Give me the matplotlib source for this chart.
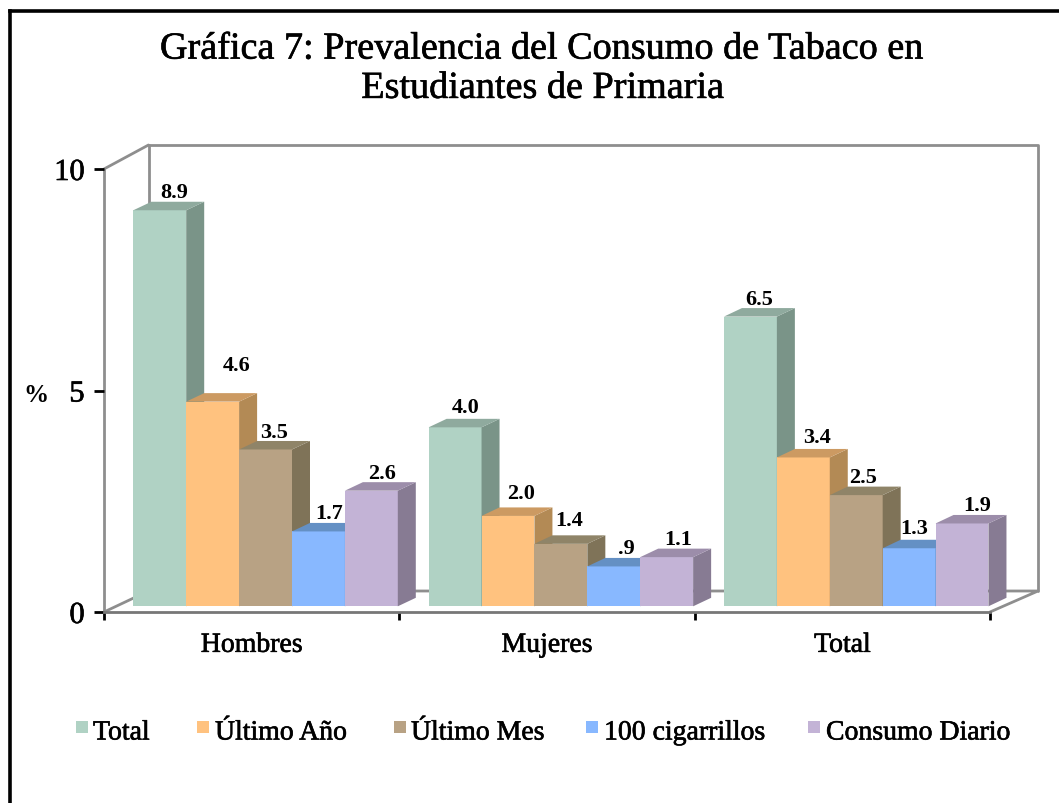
import matplotlib
matplotlib.use("Agg")
import matplotlib.pyplot as plt
import matplotlib.patheffects as pe
from matplotlib.patches import Polygon, Rectangle

# ── data ──────────────────────────────────────────────────────────────────────
TITLE = "Gráfica 7: Prevalencia del Consumo de Tabaco en\nEstudiantes de Primaria"
categories = ["Hombres", "Mujeres", "Total"]
series_names = ["Total", "Último Año", "Último Mes", "100 cigarrillos", "Consumo Diario"]

# bar heights (printed labels are the rounded values)
total = [8.94, 4.04, 6.54]
ultimo_anio = [4.62, 2.04, 3.36]
ultimo_mes = [3.54, 1.41, 2.51]
cien_cigarrillos = [1.69, 0.90, 1.31]
consumo_diario = [2.61, 1.11, 1.87]

value_labels = [
    ["8.9", "4.0", "6.5"],
    ["4.6", "2.0", "3.4"],
    ["3.5", "1.4", "2.5"],
    ["1.7", ".9", "1.3"],
    ["2.6", "1.1", "1.9"],
]
y_ticks = [0, 5, 10]

# ── style ─────────────────────────────────────────────────────────────────────
W, H = 1059, 804
FONT = "Liberation Serif"
FRONT = ["#B0D2C4", "#FFC27F", "#B8A284", "#88B8FF", "#C3B3D6"]
SIDE = ["#7A9488", "#B38A55", "#7F7358", "#5F8CC0", "#877B93"]
TOP = ["#8FAA9E", "#CC9A62", "#8F8468", "#6490C4", "#9C8DAA"]
WALL = "#8E8E8E"
HEAVY = [pe.withStroke(linewidth=0.45, foreground="black")]

# axes frame in pixels
AX_L, AX_R, AX_T, AX_B = 104, 990, 170, 613
PX_X = 3 / (AX_R - AX_L)     # data units per pixel
PX_Y = 10 / (AX_B - AX_T)

# label offsets from bar top-centre, pixels (series, category)
LABEL_NUDGE = [
    [(14, 18), (11, 20.5), (9, 18)],
    [(24, 36.5), (13, 22.5), (14, 20)],
    [(9, 17), (8, 23.5), (7, 18)],
    [(11, 18), (13, 18.5), (5, 20)],
    [(11, 18), (12, 18), (15, 18)],
]
LEGEND_X = [75.5, 197, 394, 586, 808]
LEGEND_TEXT_X = [93, 215, 411, 604, 826]


def px(x, y):
    return x / W, 1 - y / H


series = [total, ultimo_anio, ultimo_mes, cien_cigarrillos, consumo_diario]

fig = plt.figure(figsize=(W / 100, H / 100), dpi=100, facecolor="white")
ax = fig.add_axes([AX_L / W, 1 - AX_B / H, (AX_R - AX_L) / W, (AX_B - AX_T) / H])
ax.set_xlim(0, 3)
ax.set_ylim(0, 10)
ax.patch.set_visible(False)

# outer frame, runs off the right and bottom edges
fig.add_artist(plt.Line2D([px(10, 0)[0], px(10, 0)[0]], [0, px(0, 12)[1]], color="black", lw=2.6))
fig.add_artist(plt.Line2D([px(10, 0)[0], 1], [px(0, 12)[1], px(0, 12)[1]], color="black", lw=2.6))

# back wall and floor
wall_lx, wall_rx = 44.5 * PX_X, 48 * PX_X
wall_top, floor_dy = 24 * PX_Y, 21 * PX_Y
wall_kw = dict(color=WALL, lw=2, clip_on=False, zorder=1, solid_capstyle="round")
ax.plot([0, wall_lx], [10, 10 + wall_top], **wall_kw)
ax.plot([wall_lx, 3 + wall_rx, 3 + wall_rx], [10 + wall_top, 10 + wall_top, floor_dy], **wall_kw)
ax.plot([wall_lx, wall_lx], [10 + wall_top, floor_dy], **wall_kw)
ax.plot([0, wall_lx, 3 + wall_rx, 3], [0, floor_dy, floor_dy, 0], **wall_kw)

# bars: front face via bar(), side and top faces as offset polygons
bar_w = 52.9 * PX_X
base_dx, base_dy = 13.3 * PX_X, 5.7 * PX_Y
depth_x, depth_y = 18 * PX_X, 8.5 * PX_Y
margin = 16 * PX_X

for c in range(len(categories)):
    left = c + margin + base_dx
    for s, values in enumerate(series):
        v = values[c]
        x0 = left + s * bar_w
        x1 = x0 + bar_w
        z = 3 + s * 0.1
        ax.bar(x0, v, bar_w, bottom=base_dy, align="edge", color=FRONT[s], lw=0,
               clip_on=False, zorder=z)
        top = base_dy + v
        ax.add_patch(Polygon(
            [(x1, base_dy), (x1 + depth_x, base_dy + depth_y),
             (x1 + depth_x, top + depth_y), (x1, top)],
            closed=True, fc=SIDE[s], lw=0, clip_on=False, zorder=z))
        ax.add_patch(Polygon(
            [(x0, top), (x0 + depth_x, top + depth_y),
             (x1 + depth_x, top + depth_y), (x1, top)],
            closed=True, fc=TOP[s], lw=0, clip_on=False, zorder=z))
        nx, ny = LABEL_NUDGE[s][c]
        ax.text((x0 + x1) / 2 + nx * PX_X, top + ny * PX_Y, value_labels[s][c],
                ha="center", va="center", fontsize=16, family=FONT,
                fontweight="bold", color="black", zorder=6, clip_on=False)

# axes
for name in ("top", "right"):
    ax.spines[name].set_visible(False)
ax.spines["left"].set_color(WALL)
ax.spines["left"].set_linewidth(2)
ax.spines["bottom"].set_color("#777777")
ax.spines["bottom"].set_linewidth(2)
ax.spines["left"].set_zorder(1)
ax.spines["bottom"].set_zorder(2)

ax.set_yticks(y_ticks)
ax.set_yticklabels([str(t) for t in y_ticks], family=FONT, fontsize=22, path_effects=HEAVY)
ax.tick_params(axis="y", length=7, width=2, color="black", pad=7)
ax.set_xticks(range(4))
ax.set_xticklabels([])
ax.tick_params(axis="x", which="major", length=6, width=2, color="black")
ax.set_xticks([i + 0.5 for i in range(3)], minor=True)
ax.set_xticklabels(categories, minor=True, family=FONT, fontsize=20, path_effects=HEAVY)
ax.tick_params(axis="x", which="minor", length=0, pad=15)

fig.text(*px(36, 396), "%", ha="center", va="center", family=FONT, fontsize=18, fontweight="bold")
fig.text(*px(543, 70), TITLE, ha="center", va="center", family=FONT, fontsize=27.5,
         linespacing=1.18, path_effects=HEAVY)

# legend
for s, name in enumerate(series_names):
    fx, fy = px(LEGEND_X[s], 734)
    fig.add_artist(Rectangle((fx, fy), 12 / W, 12 / H, transform=fig.transFigure, fc=FRONT[s], lw=0))
    fig.text(*px(LEGEND_TEXT_X[s], 734), name, ha="left", va="center", family=FONT, fontsize=20,
             path_effects=HEAVY)

fig.savefig("out.png", dpi=100)
